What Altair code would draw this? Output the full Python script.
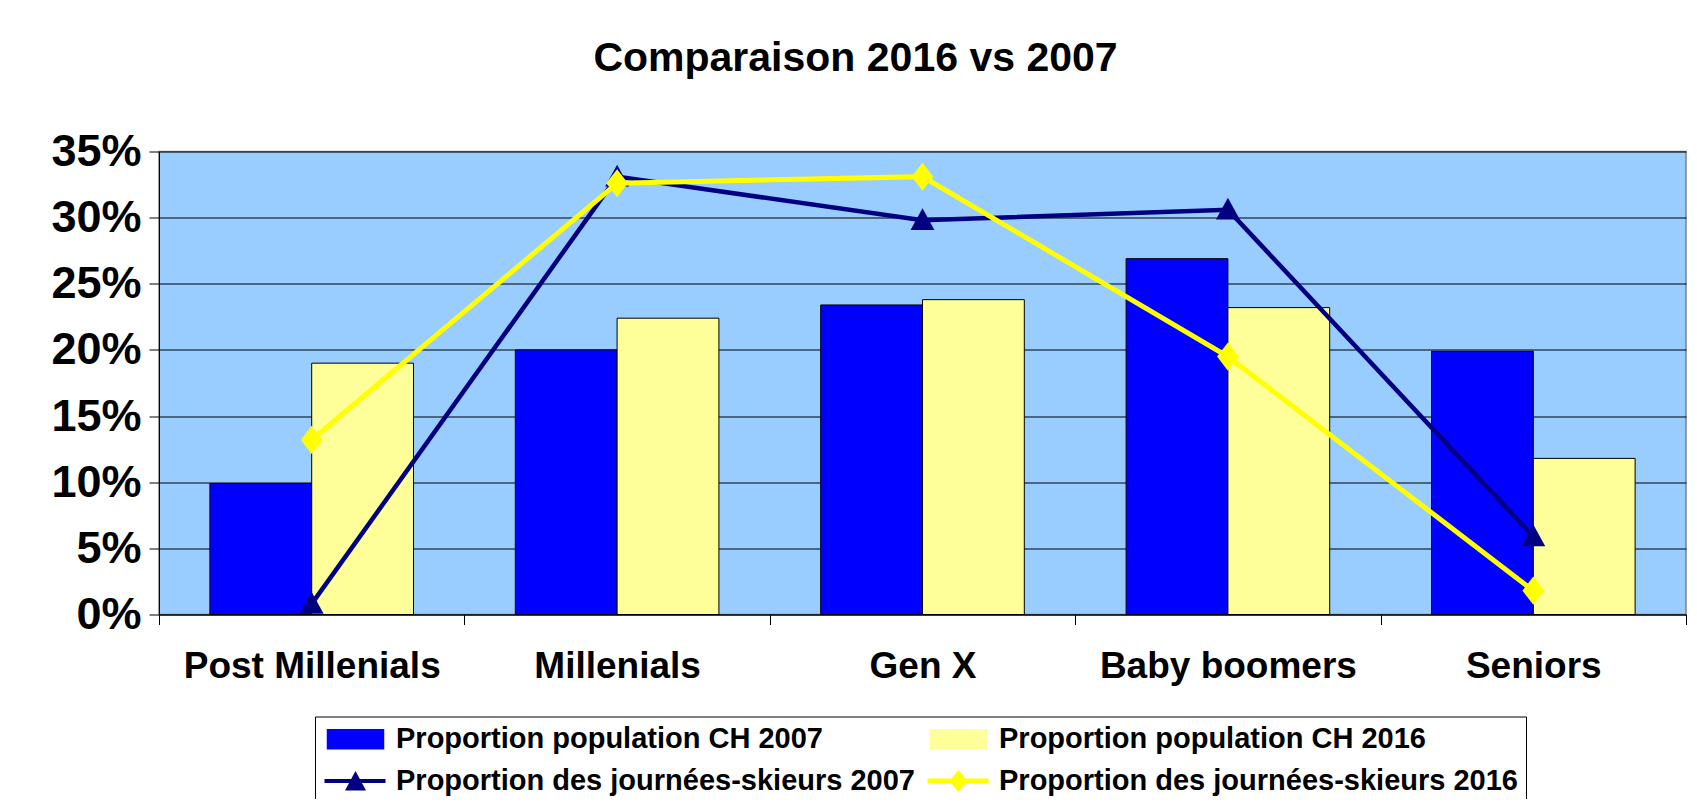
import json
import altair as alt
import pandas as pd

FONT = "Liberation Sans"

categories = ["Post Millenials", "Millenials", "Gen X", "Baby boomers", "Seniors"]
pop_2007 = [9.9, 20.0, 23.4, 26.9, 19.9]
pop_2016 = [19.0, 22.4, 23.8, 23.2, 11.8]
ski_2007 = [0.8, 33.1, 29.8, 30.6, 5.9]
ski_2016 = [13.2, 32.6, 33.1, 19.5, 1.8]

bar_series = ["Proportion population CH 2007", "Proportion population CH 2016"]
line_series = ["Proportion des journées-skieurs 2007", "Proportion des journées-skieurs 2016"]
# legend is filled column by column: first column holds the 2007 entries
legend_order = [bar_series[0], line_series[0], bar_series[1], line_series[1]]
legend_colors = ["#0000FF", "#000080", "#FFFF99", "#FFFF00"]
y_ticks = [0, 5, 10, 15, 20, 25, 30, 35]

bars_df = pd.DataFrame(
    [{"category": c, "series": bar_series[0], "value": v} for c, v in zip(categories, pop_2007)]
    + [{"category": c, "series": bar_series[1], "value": v} for c, v in zip(categories, pop_2016)]
)
line07_df = pd.DataFrame({"category": categories, "series": line_series[0], "value": ski_2007, "idx": range(5)})
line16_df = pd.DataFrame({"category": categories, "series": line_series[1], "value": ski_2016, "idx": range(5)})

TRI = "M0,-1.1L1.1,0.9H-1.1Z"
DIA = "M0,-1.3L1,0L0,1.3L-1,0Z"

# legend symbol shapes (unit = sqrt(size)/2 = 10px, symbol box from x=-1)
LEG_RECT = "M-1,-0.95H4.6V0.95H-1Z"
LEG_TRI = "M-1.3,-0.2H4.8V0.2H-1.3Z M1.8,-1L2.85,0.95H0.75Z"
LEG_DIA = "M-1.3,-0.25H4.8V0.25H-1.3Z M1.8,-1.1L2.7,0L1.8,1.1L0.9,0Z"

is_bar = f"indexof({json.dumps(bar_series, ensure_ascii=False)}, datum.value) >= 0"
shape_sig = (
    f"{is_bar} ? '{LEG_RECT}' : "
    f"(datum.value === {json.dumps(line_series[0], ensure_ascii=False)} ? '{LEG_TRI}' : '{LEG_DIA}')"
)

color_scale = alt.Scale(domain=legend_order, range=legend_colors)
x_scale = alt.Scale(type="band", paddingInner=0, paddingOuter=0)
y_scale = alt.Scale(domain=[0, 35], nice=False)

legend = alt.Legend(
    title=None,
    orient="none",
    legendX=156,
    legendY=565,
    columns=2,
    columnPadding=11,
    rowPadding=12,
    padding=8,
    symbolSize=400,
    symbolType=alt.ExprRef(shape_sig),
    symbolStrokeColor=alt.ExprRef(f"{is_bar} ? 'black' : 'transparent'"),
    symbolStrokeWidth=alt.ExprRef(f"{is_bar} ? 1.5 : 0"),
    symbolOpacity=1,
    labelOffset=44,
    labelFont=FONT,
    labelFontSize=29,
    labelFontWeight="bold",
    labelColor="black",
    labelLimit=2000,
    strokeColor="black",
    fillColor="white",
    cornerRadius=0,
)

x_axis = alt.Axis(
    title=None,
    labelAngle=0,
    labelFont=FONT,
    labelFontSize=37,
    labelFontWeight="bold",
    labelColor="black",
    labelPadding=24,
    labelLimit=1000,
    tickBand="extent",
    tickSize=10,
    tickColor="black",
    domainColor="black",
    grid=False,
)
y_axis = alt.Axis(
    title=None,
    values=y_ticks,
    labelExpr="datum.value + '%'",
    labelFont=FONT,
    labelFontSize=45,
    labelFontWeight="bold",
    labelColor="black",
    labelPadding=8,
    tickSize=10,
    tickColor="black",
    domainColor="black",
    grid=True,
    gridColor="black",
    gridWidth=1,
)

bars = alt.Chart(bars_df).mark_bar(stroke="black", strokeWidth=1, opacity=1).encode(
    x=alt.X("category:N", sort=categories, scale=x_scale, axis=x_axis),
    xOffset=alt.XOffset("series:N", sort=bar_series, scale=alt.Scale(paddingInner=0, paddingOuter=0.5)),
    y=alt.Y("value:Q", scale=y_scale, axis=y_axis),
    color=alt.Color("series:N", scale=color_scale, legend=legend),
)


def line_layer(df, width):
    return alt.Chart(df).mark_line(strokeWidth=width).encode(
        x=alt.X("category:N", sort=categories, scale=x_scale, axis=x_axis),
        y=alt.Y("value:Q", scale=y_scale, axis=y_axis),
        color=alt.Color("series:N", scale=color_scale, legend=legend),
        order=alt.Order("idx:Q"),
    )


def point_layer(df, shape):
    return alt.Chart(df).mark_point(filled=True, size=470, opacity=1, shape=shape).encode(
        x=alt.X("category:N", sort=categories, scale=x_scale, axis=x_axis),
        y=alt.Y("value:Q", scale=y_scale, axis=y_axis),
        color=alt.Color("series:N", scale=color_scale, legend=legend),
    )


chart = alt.layer(
    bars,
    line_layer(line07_df, 4.5),
    point_layer(line07_df, TRI),
    line_layer(line16_df, 5),
    point_layer(line16_df, DIA),
).properties(
    width=1527,
    height=463,
    autosize=alt.AutoSizeParams(type="none"),
    padding={"left": 151, "top": 143.5, "right": 2, "bottom": 184},
    background="white",
    title=alt.TitleParams(
        "Comparaison 2016 vs 2007",
        font=FONT,
        fontSize=41,
        fontWeight="bold",
        color="black",
        anchor="middle",
        dx=-67,
        offset=50,
    ),
).configure_view(fill="#99CCFF", stroke="#808080", strokeWidth=1.5)

chart.save("out.html", embed_options={"renderer": "svg", "actions": False})
